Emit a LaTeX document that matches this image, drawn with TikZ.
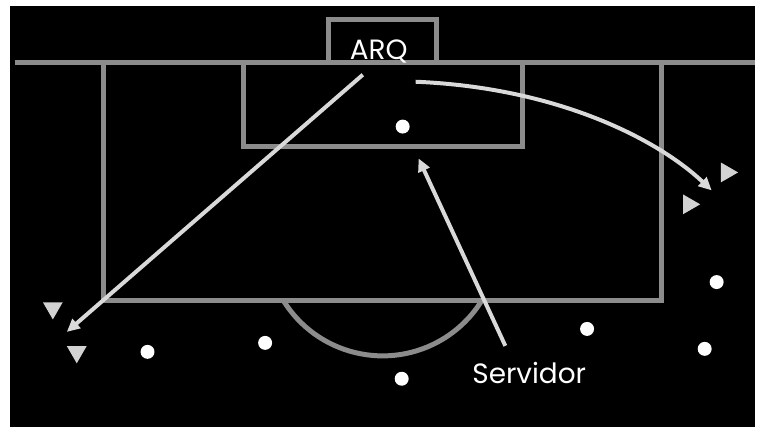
\documentclass[tikz,border=0pt]{standalone}
\usepackage{fontspec}
\setmainfont{Poppins}
\usepackage{xcolor}
\usetikzlibrary{arrows.meta,shapes.geometric,positioning,calc}

\definecolor{fieldgray}{RGB}{140,140,140}
\definecolor{passgray}{RGB}{217,217,217}
\definecolor{rivalgray}{RGB}{210,210,210}

\begin{document}
\begin{tikzpicture}[x=1pt, y=-1pt,
  field/.style={draw=fieldgray, line width=5pt},
  player/.style={circle, fill=white, minimum size=14pt, inner sep=0pt},
  rival/.style={regular polygon, regular polygon sides=3, fill=rivalgray, minimum size=23pt, inner sep=0pt},
  rivaldown/.style={rival, shape border rotate=180},
  rivalright/.style={rival, shape border rotate=-90},
  lbl/.style={text=white, font=\fontsize{28}{30}\selectfont},
  arr/.style={-{Triangle[length=13pt,width=12pt]}, line width=4pt, draw=passgray}
]
\fill[white] (0,0) rectangle (757,428);
\fill[black] (10,6) rectangle (757,428);
% pitch lines
\draw[field] (15,63) -- (757,63);
\draw[field] (104,63) -- (104,301) -- (664,301) -- (664,63);
\draw[field] (244,63) -- (244,147) -- (524,147) -- (524,63);
\draw[field] (330,63) -- (330,20) -- (438,20) -- (438,63);
\draw[field] (284,301) arc[start angle=148.6, end angle=31.4, radius=117];
% players
\node[player] (keeper) at (404,127) {};
\node[player] (p1) at (148,353) {};
\node[player] (p2) at (266,344) {};
\node[player] (p3) at (403,380) {};
\node[player] (p4) at (589,330) {};
\node[player] (p5) at (719,283) {};
\node[player] (p6) at (707,350) {};
% rivals
\node[rivaldown]  (r1) at (53,309) {};
\node[rivaldown]  (r2) at (77,353) {};
\node[rivalright] (r3) at (729,173) {};
\node[rivalright] (r4) at (691,205) {};
% labels
\node[lbl, anchor=base] (arq) at (380,60) {ARQ};
\node[lbl, anchor=base] (serv) at (531,385) {Servidor};
% passes
\coordinate (arqLeft)  at (364,75);
\coordinate (leftEnd)  at (67,333);
\coordinate (arqRight) at (417,82);
\coordinate (rightEnd) at (714,191);
\coordinate (servTop)  at (507,347);
\coordinate (boxEnd)   at (420,159);
\draw[arr] (arqLeft) -- (leftEnd);
\draw[arr] (arqRight) .. controls (560,88) and (660,140) .. (rightEnd);
\draw[arr] (servTop) -- (boxEnd);
\end{tikzpicture}
\end{document}
